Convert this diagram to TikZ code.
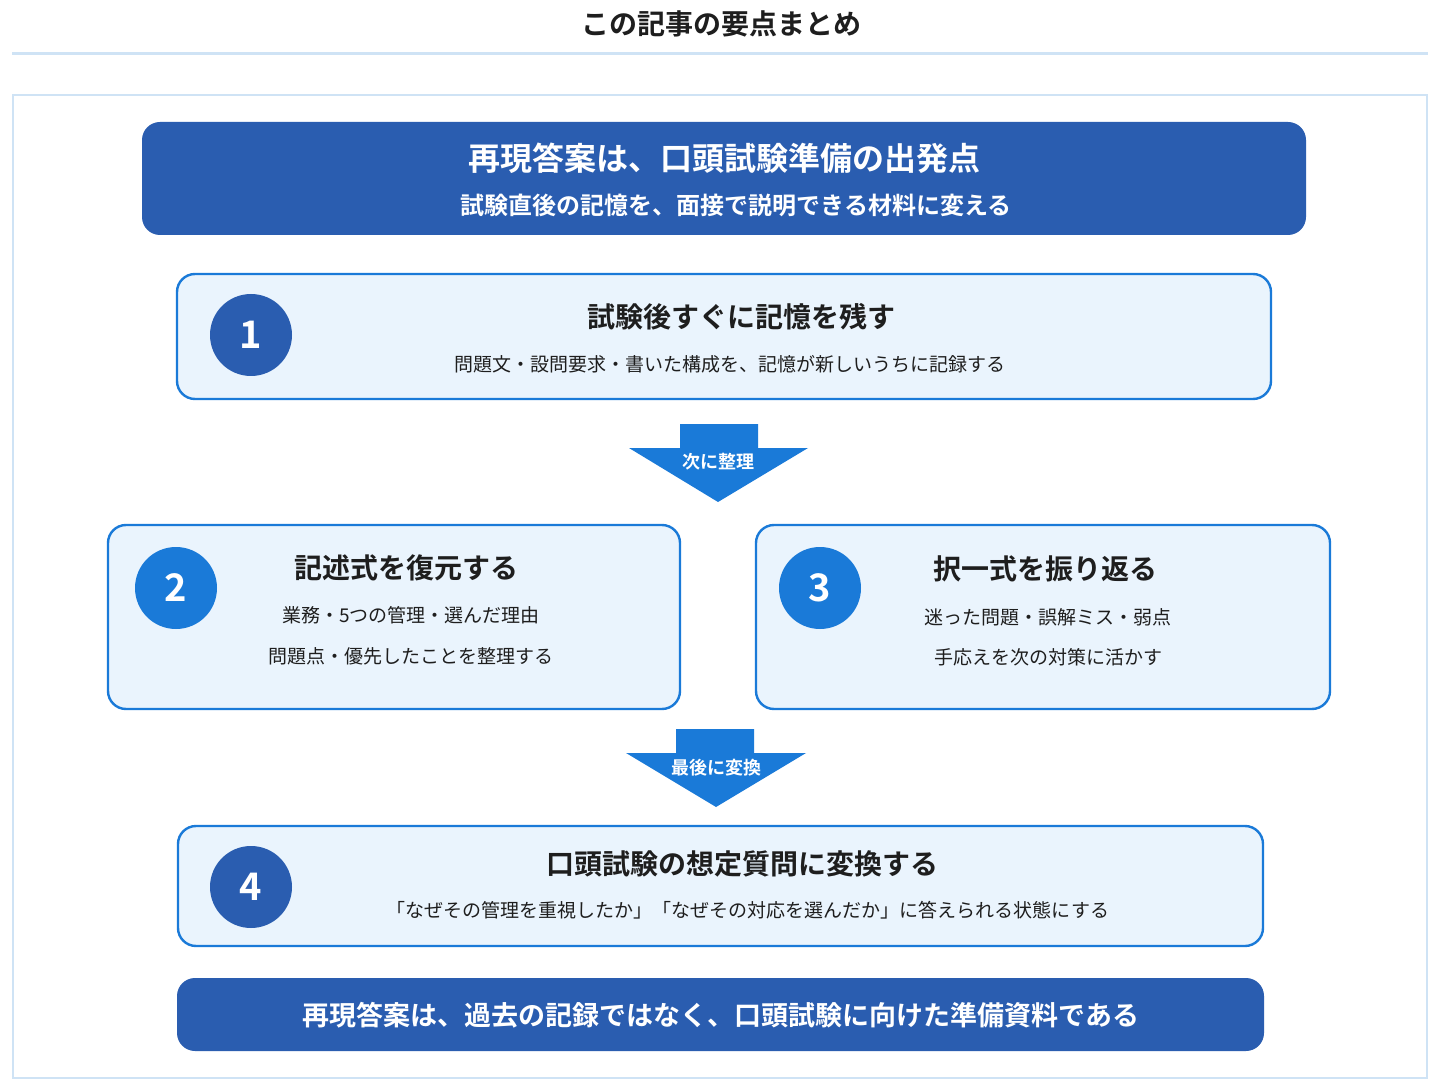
\documentclass[tikz,border=0pt]{standalone}
\usepackage{fontspec}
\setmainfont{Noto Sans CJK JP}
\newfontfamily\jpbold{Noto Sans CJK JP Bold}
\usetikzlibrary{positioning}
\definecolor{navy}{HTML}{2A5DB0}
\definecolor{bright}{HTML}{1A7AD8}
\definecolor{paleblue}{HTML}{EAF4FD}
\definecolor{rule}{HTML}{CFE3F5}
\definecolor{ink}{HTML}{1E1E1E}

\begin{document}
\begin{tikzpicture}[
  x=0.5pt, y=-0.5pt,
  banner/.style={fill=navy, rounded corners=9pt, text=white},
  stepbox/.style={draw=bright, line width=1.2pt, fill=paleblue, rounded corners=9pt},
  num/.style={circle, minimum size=41pt, inner sep=0pt, text=white, font=\jpbold\fontsize{19}{19}\selectfont},
  ttl/.style={text=ink, font=\jpbold\fontsize{14}{16}\selectfont},
  body/.style={text=ink, font=\fontsize{9.5}{11}\selectfont},
  flow/.style={fill=bright},
  flowlabel/.style={text=white, font=\jpbold\fontsize{9}{10}\selectfont}
]
\useasboundingbox (0,0) rectangle (1441,1091);
\fill[white] (0,0) rectangle (1441,1091);

% heading
\node[text=ink, font=\jpbold\fontsize{14}{16}\selectfont] (head) at (721,24) {この記事の要点まとめ};
\draw[rule, line width=1.5pt] (12,54) -- (1428,54);
\draw[rule, line width=0.6pt] (13,95) rectangle (1427,1078);

% top banner
\fill[banner] (142,122) rectangle (1306,235);
\node[text=white, font=\jpbold\fontsize{16}{18}\selectfont] (lead) at (724,158) {再現答案は、口頭試験準備の出発点};
\node[text=white, font=\jpbold\fontsize{12}{14}\selectfont] (leadsub) at (736,205) {試験直後の記憶を、面接で説明できる材料に変える};

% step 1
\draw[stepbox] (177,274) rectangle (1271,399);
\node[num, fill=navy] (n1) at (251,335) {1};
\node[ttl] (t1) at (741,317) {試験後すぐに記憶を残す};
\node[body] (b1) at (730,364) {問題文・設問要求・書いた構成を、記憶が新しいうちに記録する};

% arrow 1
\fill[flow] (680,424) -- (758,424) -- (758,448) -- (808,448) -- (718,502) -- (629,448) -- (680,448) -- cycle;
\node[flowlabel] (a1) at (718,462) {次に整理};

% step 2
\draw[stepbox] (108,525) rectangle (680,709);
\node[num, fill=bright] (n2) at (176,588) {2};
\node[ttl] (t2) at (406,568) {記述式を復元する};
\node[body] (b2a) at (411,615) {業務・5つの管理・選んだ理由};
\node[body] (b2b) at (411,656) {問題点・優先したことを整理する};

% step 3
\draw[stepbox] (756,525) rectangle (1330,709);
\node[num, fill=bright] (n3) at (820,588) {3};
\node[ttl] (t3) at (1045,569) {択一式を振り返る};
\node[body] (b3a) at (1048,617) {迷った問題・誤解ミス・弱点};
\node[body] (b3b) at (1048,657) {手応えを次の対策に活かす};

% arrow 2
\fill[flow] (676,729) -- (754,729) -- (754,753) -- (806,753) -- (716,807) -- (626,753) -- (676,753) -- cycle;
\node[flowlabel] (a2) at (716,768) {最後に変換};

% step 4
\draw[stepbox] (178,826) rectangle (1263,946);
\node[num, fill=navy] (n4) at (251,887) {4};
\node[ttl] (t4) at (742,864) {口頭試験の想定質問に変換する};
\node[body] (b4) at (748,910) {「なぜその管理を重視したか」「なぜその対応を選んだか」に答えられる状態にする};

% bottom banner
\fill[banner] (177,978) rectangle (1264,1051);
\node[text=white, font=\jpbold\fontsize{13.5}{15}\selectfont] (close) at (721,1015) {再現答案は、過去の記録ではなく、口頭試験に向けた準備資料である};
\end{tikzpicture}
\end{document}
